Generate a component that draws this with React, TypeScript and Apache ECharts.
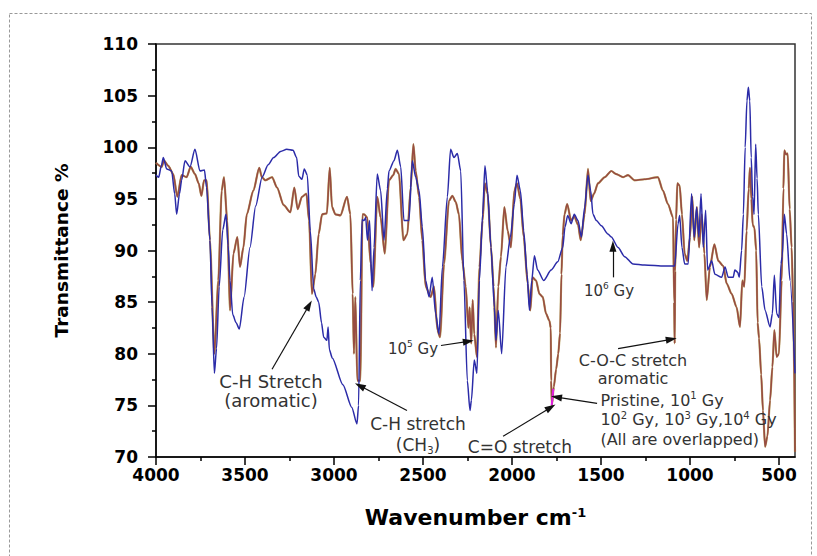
import React, { useEffect, useRef } from "react";
import * as echarts from "echarts";

// Axis tick values (wavenumber, cm-1)
const xTickValues = [500, 1000, 1500, 2000, 2500, 3000, 3500, 4000];
const xMinorTickValues = [750, 1250, 1750, 2250, 2750, 3250, 3750];

// 10^6 Gy spectrum (blue): [wavenumber, transmittance %]
const spectrum1e6Gy: [number, number][] = [
  [4000, 97.3], [3985, 97.1], [3970, 98.2], [3959, 99.0], [3940, 97.9], [3912, 97.7], [3895, 95.5], [3884, 93.5],
  [3868, 95.5], [3856, 96.8], [3837, 98.7], [3809, 98.1], [3781, 99.8], [3753, 97.7], [3728, 97.8], [3716, 96.1],
  [3697, 91.0], [3685, 84.5], [3672, 78.1], [3660, 80.5], [3645, 86.5], [3625, 92.0], [3607, 93.5], [3595, 90.5],
  [3584, 87.1], [3569, 83.8], [3550, 83.0], [3532, 82.4], [3505, 85.5], [3472, 90.3], [3440, 94.3], [3404, 97.1],
  [3370, 98.3], [3339, 99.0], [3300, 99.6], [3265, 99.8], [3230, 99.7], [3210, 99.0], [3198, 97.2], [3180, 96.9],
  [3167, 97.9], [3150, 97.3], [3133, 91.9], [3114, 86.3], [3100, 85.5], [3086, 85.0], [3070, 83.0], [3058, 81.6],
  [3040, 81.3], [3033, 82.6], [3026, 80.4], [3010, 79.6], [2950, 77.0], [2900, 74.8], [2871, 73.2], [2862, 75.0],
  [2852, 87.1], [2842, 93.0], [2831, 92.9], [2822, 93.2], [2812, 91.0], [2800, 92.9], [2786, 86.1], [2775, 90.3],
  [2757, 97.4], [2738, 95.8], [2719, 91.0], [2700, 96.0], [2691, 97.7], [2663, 98.7], [2644, 99.7], [2625, 98.1],
  [2607, 92.9], [2579, 92.9], [2560, 98.7], [2541, 97.1], [2522, 95.8], [2504, 92.3], [2485, 87.1], [2466, 85.5],
  [2448, 87.4], [2429, 83.9], [2410, 81.9], [2391, 88.4], [2363, 95.2], [2345, 99.8], [2326, 99.0], [2307, 99.4],
  [2288, 97.7], [2270, 87.1], [2251, 77.4], [2236, 74.5], [2228, 75.5], [2212, 79.4], [2197, 78.1], [2183, 87.1],
  [2165, 93.5], [2152, 98.2], [2137, 95.8], [2118, 90.3], [2099, 84.5], [2090, 81.3], [2077, 84.2], [2058, 80.0],
  [2034, 88.4], [2009, 91.3], [1987, 94.5], [1972, 97.3], [1953, 95.8], [1934, 91.9], [1915, 87.7], [1902, 84.2],
  [1889, 87.1], [1874, 89.5], [1856, 88.1], [1822, 87.1], [1780, 88.1], [1743, 88.9], [1715, 90.3], [1702, 92.3],
  [1687, 93.4], [1668, 92.6], [1650, 93.5], [1629, 92.9], [1610, 91.3], [1592, 94.2], [1573, 97.3], [1558, 95.8],
  [1545, 93.5], [1526, 92.9], [1498, 92.4], [1461, 91.6], [1442, 91.3], [1404, 90.3], [1367, 89.4], [1320, 88.7],
  [1255, 88.6], [1142, 88.5], [1086, 88.5], [1067, 92.6], [1058, 93.4], [1045, 90.3], [1030, 88.7], [1010, 88.7],
  [991, 95.5], [976, 91.3], [963, 94.2], [950, 91.3], [938, 95.5], [925, 90.3], [912, 93.9], [901, 88.1],
  [878, 89.0], [860, 87.7], [822, 87.4], [803, 88.4], [785, 87.4], [757, 87.4], [748, 88.1], [732, 87.9],
  [723, 87.4], [710, 90.0], [700, 93.5], [690, 100.0], [680, 104.5], [672, 105.8], [664, 104.5], [656, 99.0],
  [648, 95.2], [640, 93.5], [631, 100.3], [623, 97.0], [616, 93.5], [597, 86.5], [578, 84.2], [550, 82.6],
  [537, 83.9], [526, 87.6], [513, 83.9], [500, 83.5], [489, 88.7], [482, 89.4], [470, 93.5], [457, 91.6],
  [438, 87.1], [410, 78.1],
];

// Pristine, 10^1 - 10^4 Gy (overlapped, brown)
const spectrumPristine: [number, number][] = [
  [4000, 98.5], [3968, 98.1], [3955, 98.7], [3931, 98.2], [3903, 97.4], [3880, 95.2], [3856, 97.3], [3828, 97.1],
  [3805, 98.1], [3781, 97.4], [3760, 96.5], [3745, 95.3], [3730, 96.8], [3715, 96.8], [3697, 91.0], [3672, 80.0],
  [3650, 87.1], [3631, 95.8], [3618, 97.1], [3600, 92.9], [3584, 84.2], [3565, 89.7], [3543, 91.3], [3528, 88.4],
  [3509, 90.3], [3490, 93.5], [3453, 95.8], [3420, 98.0], [3405, 97.1], [3386, 96.8], [3348, 97.1], [3320, 96.1],
  [3283, 94.4], [3245, 93.7], [3223, 96.1], [3204, 94.0], [3180, 95.2], [3155, 95.5], [3140, 92.9], [3124, 85.8],
  [3105, 87.7], [3086, 91.6], [3067, 93.5], [3040, 93.6], [3024, 98.0], [3011, 94.2], [2992, 93.5], [2964, 93.4],
  [2927, 95.2], [2908, 93.5], [2895, 85.8], [2888, 80.0], [2880, 85.5], [2869, 77.4], [2852, 77.4], [2840, 93.5],
  [2831, 93.5], [2813, 93.2], [2794, 88.7], [2779, 86.5], [2757, 95.2], [2738, 93.2], [2715, 89.7], [2691, 96.8],
  [2667, 97.3], [2654, 97.9], [2635, 97.4], [2610, 91.0], [2588, 91.6], [2569, 96.1], [2554, 100.3], [2541, 97.7],
  [2522, 95.2], [2504, 91.0], [2485, 86.5], [2457, 85.5], [2438, 86.5], [2419, 82.3], [2404, 81.6], [2382, 88.7],
  [2354, 94.8], [2335, 95.3], [2316, 94.7], [2298, 93.5], [2279, 89.0], [2260, 86.5], [2245, 82.5], [2238, 84.5],
  [2229, 81.0], [2221, 85.2], [2212, 81.9], [2197, 79.7], [2183, 88.4], [2165, 92.9], [2152, 96.5], [2137, 95.5],
  [2118, 90.3], [2103, 86.5], [2090, 80.6], [2077, 86.5], [2062, 89.4], [2043, 94.2], [2024, 91.9], [2006, 90.3],
  [1987, 95.8], [1972, 96.5], [1953, 95.0], [1934, 91.3], [1912, 86.8], [1897, 84.2], [1884, 87.4], [1865, 87.1],
  [1846, 85.8], [1827, 85.5], [1809, 83.9], [1790, 83.2], [1782, 82.5], [1780, 77.4], [1776, 75.0], [1765, 76.8],
  [1752, 78.5], [1740, 80.0], [1730, 82.0], [1722, 87.7], [1715, 91.5], [1705, 93.5], [1690, 94.5], [1668, 92.9],
  [1650, 93.3], [1629, 92.5], [1614, 91.0], [1592, 93.5], [1573, 97.9], [1558, 94.8], [1539, 95.5], [1517, 96.5],
  [1479, 97.1], [1442, 97.7], [1414, 97.4], [1376, 97.1], [1348, 97.3], [1311, 96.8], [1255, 96.9], [1180, 97.1],
  [1152, 95.8], [1124, 94.5], [1095, 93.2], [1089, 85.0], [1086, 81.0], [1083, 88.0], [1078, 93.0], [1071, 96.5],
  [1058, 96.3], [1045, 93.5], [1030, 89.7], [1015, 89.0], [1000, 91.3], [987, 95.2], [976, 91.0], [961, 94.2],
  [949, 90.3], [934, 93.5], [919, 89.7], [906, 85.2], [888, 88.4], [863, 90.6], [841, 89.0], [813, 88.5],
  [794, 86.8], [766, 85.8], [738, 84.5], [719, 82.6], [706, 87.1], [695, 86.5], [682, 91.9], [670, 96.0],
  [663, 98.0], [655, 95.0], [648, 92.5], [638, 92.2], [628, 90.0], [620, 83.0], [612, 81.5], [600, 78.0],
  [590, 74.5], [578, 71.0], [565, 72.0], [550, 75.5], [537, 78.7], [526, 82.3], [513, 79.7], [500, 80.0],
  [485, 87.1], [475, 96.0], [470, 99.7], [460, 99.3], [451, 99.4], [440, 94.0], [429, 90.3], [420, 85.0],
  [410, 70.5],
];

// Highlighted overlapped bottom of the C=O band
const carbonylHighlight: [number, number][] = [[1777, 75.0], [1768, 76.6]];

// Annotation texts and their anchor (data coordinates)
const annotationTexts = [
  "C-H Stretch\n(aromatic)",
  "C-H stretch\n(CH{sub|3})",
  "10{sup|5} Gy",
  "C=O stretch",
  "Pristine, 10{sup|1} Gy\n10{sup|2} Gy, 10{sup|3} Gy,10{sup|4} Gy\n(All are overlapped)",
  "C-O-C stretch\naromatic",
  "10{sup|6} Gy",
];
const annotationAnchors: [number, number][] = [
  [3354, 76.4], [2528, 72.2], [2556, 80.5], [1955, 71.0], [1506, 73.6], [1320, 78.5], [1455, 86.1],
];
// Arrows: [from, to] in data coordinates
const annotationArrows: [[number, number], [number, number]][] = [
  [[3348, 78.5], [3140, 84.7]],
  [[2590, 74.5], [2855, 76.9]],
  [[2399, 80.8], [2245, 81.2]],
  [[2050, 72.0], [1782, 74.8]],
  [[1522, 75.2], [1750, 75.8]],
  [[1404, 80.5], [1105, 81.4]],
  [[1433, 87.4], [1433, 90.4]],
];

const annotationSizes = [18, 17, 15, 17, 16, 16, 15];
const annotationLineHeights = [19, 21, 18, 20, 19.5, 18, 18];

const FONT = "DejaVu Sans";
const ARROW_PATH = "path://M5,0 L10,14 L0,14 Z";

export default function App() {
  const ref = useRef<HTMLDivElement>(null);

  useEffect(() => {
    document.body.style.margin = "0";
    if (!ref.current) return;
    const chart = echarts.init(ref.current, undefined, { renderer: "svg" });

    const tickStyle = { color: "#000", width: 1.5 };

    const markPointData = annotationTexts.map((t, i) => {
      const size = annotationSizes[i];
      const isLeft = i === 4;
      return {
        coord: annotationAnchors[i],
        label: {
          show: true,
          position: isLeft ? "right" : "inside",
          distance: 0,
          formatter: t,
          align: isLeft ? "left" : "center",
          fontFamily: FONT,
          fontSize: size,
          lineHeight: annotationLineHeights[i],
          color: "#333",
          rich: {
            sup: { fontFamily: FONT, fontSize: Math.round(size * 0.6), verticalAlign: "top", color: "#333", lineHeight: annotationLineHeights[i] },
            sub: { fontFamily: FONT, fontSize: Math.round(size * 0.6), verticalAlign: "bottom", color: "#333", lineHeight: annotationLineHeights[i] },
          },
        },
      };
    });

    const markLineData = annotationArrows.map(([a, b]) => [
      { coord: a, symbol: "none" },
      { coord: b, symbol: ARROW_PATH, symbolSize: [7, 11] },
    ]);

    const option: any = {
      animation: false,
      backgroundColor: "#fff",
      grid: { left: 156, right: 22, top: 44, bottom: 99, show: true, borderColor: "#333", borderWidth: 1.5, backgroundColor: "transparent" },
      xAxis: [
        {
          type: "value",
          min: 410,
          max: 4000,
          inverse: true,
          position: "bottom",
          axisLine: { show: true, onZero: false, lineStyle: { color: "#000", width: 1.5 } },
          axisTick: { show: true, inside: false, length: 8, lineStyle: tickStyle, customValues: xTickValues },
          axisLabel: {
            show: true,
            customValues: xTickValues,
            formatter: (v: number) => String(Math.round(v)),
            fontFamily: FONT,
            fontWeight: "bold",
            fontSize: 17,
            color: "#000",
            margin: 9,
          },
          splitLine: { show: false },
          name: "Wavenumber cm{sup|-1}",
          nameLocation: "middle",
          nameGap: 49,
          nameTextStyle: {
            fontFamily: FONT,
            fontWeight: "bold",
            fontSize: 22,
            color: "#000",
            rich: { sup: { fontFamily: FONT, fontWeight: "bold", fontSize: 13, verticalAlign: "top", color: "#000" } },
          },
        },
        {
          type: "value",
          min: 410,
          max: 4000,
          inverse: true,
          position: "bottom",
          axisLine: { show: false, onZero: false },
          axisTick: { show: true, inside: false, length: 4, lineStyle: tickStyle, customValues: xMinorTickValues },
          axisLabel: { show: false },
          splitLine: { show: false },
        },
      ],
      yAxis: {
        type: "value",
        min: 70,
        max: 110,
        interval: 5,
        axisLine: { show: true, onZero: false, lineStyle: { color: "#000", width: 1.5 } },
        axisTick: { show: true, inside: false, length: 8, lineStyle: tickStyle },
        minorTick: { show: true, splitNumber: 2, length: 4, lineStyle: tickStyle },
        axisLabel: { fontFamily: FONT, fontWeight: "bold", fontSize: 17, color: "#000", margin: 18 },
        splitLine: { show: false },
        minorSplitLine: { show: false },
        name: "Transmittance %",
        nameLocation: "middle",
        nameGap: 85,
        nameTextStyle: { fontFamily: FONT, fontWeight: "bold", fontSize: 18.5, color: "#000" },
      },
      series: [
        {
          name: "overlap-tint",
          type: "line",
          data: spectrumPristine,
          showSymbol: false,
          symbol: "none",
          smooth: 0.25,
          smoothMonotone: "x",
          lineStyle: { color: "#a89038", width: 2.2, opacity: 0.75 },
          silent: true,
          z: 1,
        },
        {
          name: "Pristine, 10^1-10^4 Gy",
          type: "line",
          data: spectrumPristine,
          showSymbol: false,
          symbol: "none",
          smooth: 0.25,
          smoothMonotone: "x",
          lineStyle: { color: "#984c42", width: 1.6 },
          silent: true,
          z: 2,
          markPoint: {
            symbol: "circle",
            symbolSize: 1,
            silent: true,
            itemStyle: { color: "rgba(0,0,0,0)" },
            data: markPointData,
          },
          markLine: {
            silent: true,
            symbol: ["none", ARROW_PATH],
            symbolSize: 10,
            lineStyle: { color: "#111", width: 1.2, type: "solid" },
            itemStyle: { color: "#111" },
            label: { show: false },
            emphasis: { disabled: true },
            data: markLineData,
          },
        },
        {
          name: "10^6 Gy",
          type: "line",
          data: spectrum1e6Gy,
          showSymbol: false,
          symbol: "none",
          smooth: 0.25,
          smoothMonotone: "x",
          lineStyle: { color: "#2b2ba8", width: 1.5 },
          silent: true,
          z: 3,
        },
        {
          name: "C=O overlap",
          type: "line",
          data: carbonylHighlight,
          showSymbol: false,
          symbol: "none",
          lineStyle: { color: "#e020e0", width: 2 },
          silent: true,
          z: 4,
        },
      ],
      graphic: [
        {
          type: "rect",
          silent: true,
          z: -10,
          shape: { x: 9.5, y: 13.5, width: 802, height: 560 },
          style: { fill: "none", stroke: "#999", lineWidth: 1, lineDash: [3, 2] },
        },
      ],
    };

    chart.setOption(option);
    return () => chart.dispose();
  }, []);

  return <div ref={ref} style={{ width: 817, height: 556 }} />;
}
